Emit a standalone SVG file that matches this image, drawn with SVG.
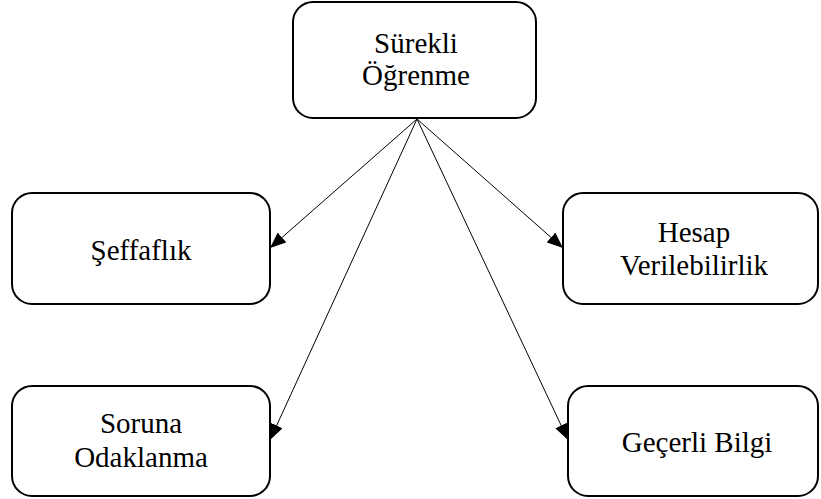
<svg xmlns="http://www.w3.org/2000/svg" width="821" height="499" viewBox="0 0 821 499">
  <style>
    .box { fill: #ffffff; stroke: #000000; stroke-width: 2; }
    .label { font-size: 29px; fill: #000000; text-anchor: middle; }
    .edge { stroke: #000000; stroke-width: 1; fill: none; marker-end: url(#arrow); }
  </style>
  <defs>
    <marker id="arrow" markerUnits="userSpaceOnUse" markerWidth="17" markerHeight="13" refX="16" refY="6.5" orient="auto">
      <path d="M0,0 L16,6.5 L0,13 Z" fill="#000000"/>
    </marker>
  </defs>
  <rect x="0" y="0" width="821" height="499" fill="#ffffff"/>

  <g id="edges">
    <line class="edge" x1="417" y1="119" x2="270" y2="248"/>
    <line class="edge" x1="417" y1="119" x2="563" y2="248"/>
    <line class="edge" x1="417" y1="119" x2="270" y2="440"/>
    <line class="edge" x1="417" y1="119" x2="568" y2="440"/>
  </g>

  <g font-family="Liberation Serif, Tinos, Times New Roman, DejaVu Serif, serif">
    <g id="surekli-ogrenme">
      <rect class="box" x="293" y="2" width="243" height="116" rx="20" ry="20"/>
      <text class="label" x="416" y="53">Sürekli</text>
      <text class="label" x="416" y="85">Öğrenme</text>
    </g>

    <g id="seffaflik">
      <rect class="box" x="12" y="193" width="258" height="111" rx="20" ry="20"/>
      <text class="label" x="141" y="260">Şeffaflık</text>
    </g>

    <g id="hesap-verilebilirlik">
      <rect class="box" x="563" y="193" width="255" height="111" rx="20" ry="20"/>
      <text class="label" x="694" y="242">Hesap</text>
      <text class="label" x="694" y="275">Verilebilirlik</text>
    </g>

    <g id="soruna-odaklanma">
      <rect class="box" x="12" y="386" width="258" height="110" rx="20" ry="20"/>
      <text class="label" x="141" y="433">Soruna</text>
      <text class="label" x="141" y="467">Odaklanma</text>
    </g>

    <g id="gecerli-bilgi">
      <rect class="box" x="568" y="386" width="250" height="110" rx="20" ry="20"/>
      <text class="label" x="697" y="452">Geçerli Bilgi</text>
    </g>
  </g>
</svg>
